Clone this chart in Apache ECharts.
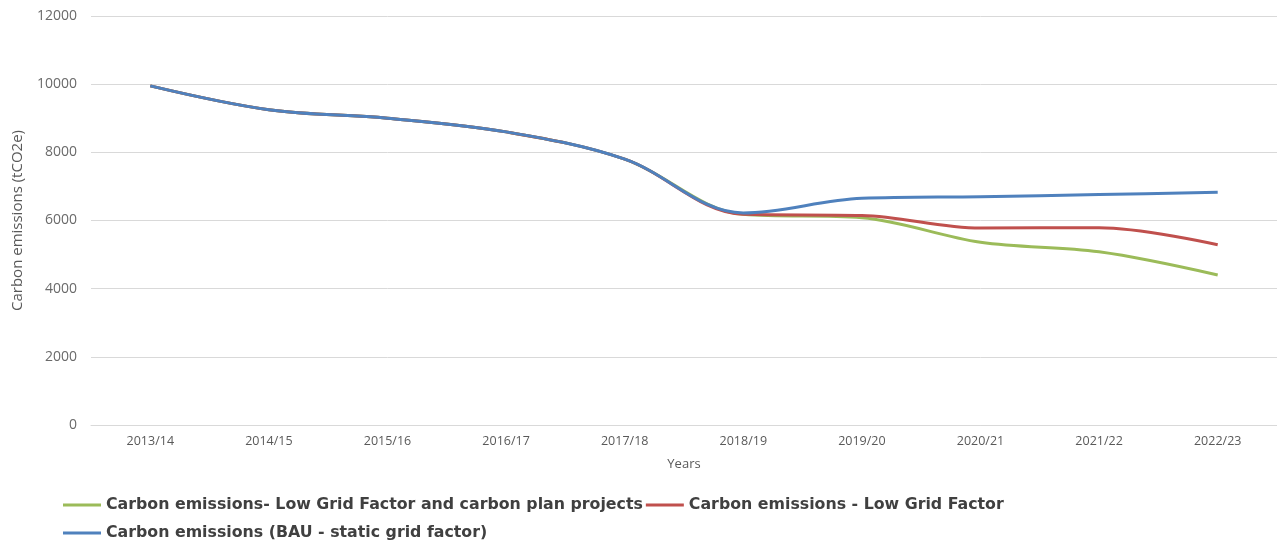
<!DOCTYPE html>
<html>
<head>
<meta charset="utf-8">
<title>Carbon emissions</title>
<script src="https://cdn.jsdelivr.net/npm/echarts@6/dist/echarts.min.js"></script>
<style>
  html, body { margin: 0; padding: 0; background: #ffffff; }
  #chart { width: 1277px; height: 540px; }
</style>
</head>
<body>
<div id="chart"></div>
<script>
// Financial years on the category axis
const years = ['2013/14', '2014/15', '2015/16', '2016/17', '2017/18',
               '2018/19', '2019/20', '2020/21', '2021/22', '2022/23'];

// Emissions in tCO2e for each scenario
const lowGridPlusProjects = [9950, 9250, 9000, 8600, 7800, 6180, 6080, 5360, 5080, 4400];
const lowGridFactor       = [9950, 9250, 9000, 8600, 7800, 6180, 6150, 5780, 5790, 5290];
const bauStaticGrid       = [9950, 9250, 9000, 8600, 7800, 6220, 6650, 6700, 6760, 6830];

const yTicks = [0, 2000, 4000, 6000, 8000, 10000, 12000];

const NAME_GREEN = 'Carbon emissions- Low Grid Factor and carbon plan projects';
const NAME_RED = 'Carbon emissions - Low Grid Factor';
const NAME_BLUE = 'Carbon emissions (BAU - static grid factor)';

const font = 'Open Sans';
const legendText = { color: '#404040', fontSize: 15.8, fontWeight: 'bold', fontFamily: 'DejaVu Sans' };

const chart = echarts.init(document.getElementById('chart'));
chart.setOption({
  backgroundColor: '#ffffff',
  animation: false,
  grid: { left: 91, right: 0, top: 16, bottom: 115, containLabel: false },
  legend: [
    {
      data: [NAME_GREEN, NAME_RED],
      left: 58, top: 492,
      itemWidth: 38, itemHeight: 3, itemGap: 3,
      icon: 'rect',
      textStyle: legendText
    },
    {
      data: [NAME_BLUE],
      left: 58, top: 520,
      itemWidth: 38, itemHeight: 3,
      icon: 'rect',
      textStyle: legendText
    }
  ],
  xAxis: {
    type: 'category',
    data: years,
    boundaryGap: true,
    name: 'Years',
    nameLocation: 'middle',
    nameGap: 33,
    nameTextStyle: { color: '#595959', fontSize: 13, fontFamily: font },
    axisLine: { show: true, lineStyle: { color: '#d9d9d9', width: 1 } },
    axisTick: { show: false },
    axisLabel: { color: '#595959', fontSize: 12.5, fontFamily: font, margin: 10 }
  },
  yAxis: {
    type: 'value',
    min: yTicks[0],
    max: yTicks[yTicks.length - 1],
    interval: 2000,
    name: 'Carbon emissions (tCO2e)',
    nameLocation: 'middle',
    nameRotate: 90,
    nameGap: 66,
    nameTextStyle: { color: '#595959', fontSize: 15, fontFamily: font },
    axisLine: { show: false },
    axisTick: { show: false },
    axisLabel: {
      color: '#6a6a6a', fontSize: 14, fontFamily: font, margin: 14,
      formatter: (v) => String(v)
    },
    splitLine: { lineStyle: { color: '#d9d9d9', width: 1 } }
  },
  series: [
    {
      name: NAME_GREEN, type: 'line', data: lowGridPlusProjects,
      smooth: 0.35, showSymbol: false, symbol: 'none',
      lineStyle: { color: '#9bbb59', width: 3 }, itemStyle: { color: '#9bbb59' }
    },
    {
      name: NAME_RED, type: 'line', data: lowGridFactor,
      smooth: 0.35, showSymbol: false, symbol: 'none',
      lineStyle: { color: '#c0504d', width: 3 }, itemStyle: { color: '#c0504d' }
    },
    {
      name: NAME_BLUE, type: 'line', data: bauStaticGrid,
      smooth: 0.35, showSymbol: false, symbol: 'none',
      lineStyle: { color: '#4f81bd', width: 3 }, itemStyle: { color: '#4f81bd' }
    }
  ]
});
</script>
</body>
</html>
